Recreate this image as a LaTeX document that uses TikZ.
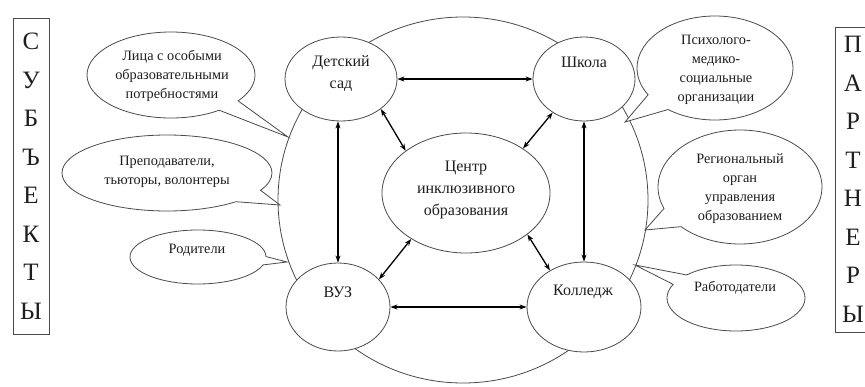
\documentclass[tikz,border=0pt]{standalone}
\usepackage{fontspec}
\setmainfont{Liberation Serif}
\usetikzlibrary{shapes.geometric,shapes.callouts,arrows.meta}
\definecolor{ln}{HTML}{4A4A4A}
\definecolor{tx}{HTML}{1E1E1E}
\begin{document}
\begin{tikzpicture}[x=1pt,y=-1pt,
  bubble/.style={ellipse, draw=ln, line width=0.8pt, fill=white, inner sep=0pt},
  callbox/.style={ellipse callout, draw=ln, line width=0.8pt, fill=white, inner sep=0pt},
  ntext/.style={align=center, text=tx, font=\fontsize{16}{22}\selectfont, inner sep=0pt},
  ctext/.style={align=center, text=tx, font=\fontsize{14.3}{18.8}\selectfont, inner sep=0pt},
  link/.style={{Stealth[length=7pt,width=5pt]}-{Stealth[length=7pt,width=5pt]}, line width=1.3pt, black},
  letters/.style={draw=ln, line width=0.8pt, minimum width=36pt, inner sep=0pt, align=center, text=tx, font=\fontsize{25}{38.5}\selectfont}
]
\useasboundingbox (0,0) rectangle (865,386);
\clip (0,0) rectangle (865,386);
\fill[white] (0,0) rectangle (865,386);

% side boxes
\node[letters, minimum height=316pt] (subj) at (31,176) {С\\У\\Б\\Ъ\\Е\\К\\Т\\Ы};
\node[letters, minimum height=305pt] (part) at (853,179.5) {П\\А\\Р\\Т\\Н\\Е\\Р\\Ы};

% outer ellipse
\draw[ln, line width=0.8pt] (463,200) ellipse [x radius=185, y radius=183];

% callouts
\node[callbox, minimum width=168pt, minimum height=86pt, callout pointer arc=18, callout absolute pointer={(288,137)}] (c1) at (171,75) {};
\node[ctext] (c1t) at (172,76) {Лица с особыми\\образовательными\\потребностями};
\node[callbox, minimum width=210pt, minimum height=76pt, callout pointer arc=22, callout absolute pointer={(280,205)}] (c2) at (167,173) {};
\node[ctext] (c2t) at (167,171.5) {Преподаватели,\\тьюторы, волонтеры};
\node[callbox, minimum width=136pt, minimum height=54pt, callout pointer arc=18, callout absolute pointer={(287,262)}] (c3) at (198,257) {};
\node[ctext] (c3t) at (197,250) {Родители};
\node[callbox, minimum width=156pt, minimum height=104pt, callout pointer arc=22, callout absolute pointer={(625,122)}] (c4) at (715,68) {};
\node[ctext] (c4t) at (716,70) {Психолого-\\медико-\\социальные\\организации};
\node[callbox, minimum width=164pt, minimum height=114pt, callout pointer arc=22, callout absolute pointer={(645,230)}] (c5) at (740,187) {};
\node[ctext] (c5t) at (740,188.5) {Региональный\\орган\\управления\\образованием};
\node[callbox, minimum width=138pt, minimum height=66pt, callout pointer arc=20, callout absolute pointer={(635,265)}] (c6) at (736,298) {};
\node[ctext] (c6t) at (735,288) {Работодатели};

% main nodes
\node[bubble, minimum width=112pt, minimum height=84pt] (sad) at (341,79) {};
\node[ntext] (sadt) at (341,74) {Детский\\сад};
\node[bubble, minimum width=102pt, minimum height=84pt] (shk) at (584,79) {};
\node[ntext] (shkt) at (584,62) {Школа};
\node[bubble, minimum width=168pt, minimum height=120pt] (cen) at (466,193) {};
\node[ntext] (cent) at (466,190) {Центр\\инклюзивного\\образования};
\node[bubble, minimum width=104pt, minimum height=88pt] (vuz) at (338,307) {};
\node[ntext] (vuzt) at (338,292) {ВУЗ};
\node[bubble, minimum width=114pt, minimum height=90pt] (kol) at (584,307) {};
\node[ntext] (kolt) at (583,292) {Колледж};

% links
\draw[link] (sad) -- (shk);
\draw[link] (vuz) -- (kol);
\draw[link] (vuz.north |- sad.south) -- (vuz.north);
\draw[link] (kol.north |- shk.south) -- (kol.north);
\draw[link] (sad.-37) -- (cen.145);
\draw[link] (shk.-133) -- (cen.38);
\draw[link] (vuz.34) -- (cen.220);
\draw[link] (kol.133) -- (cen.-34);
\end{tikzpicture}
\end{document}
